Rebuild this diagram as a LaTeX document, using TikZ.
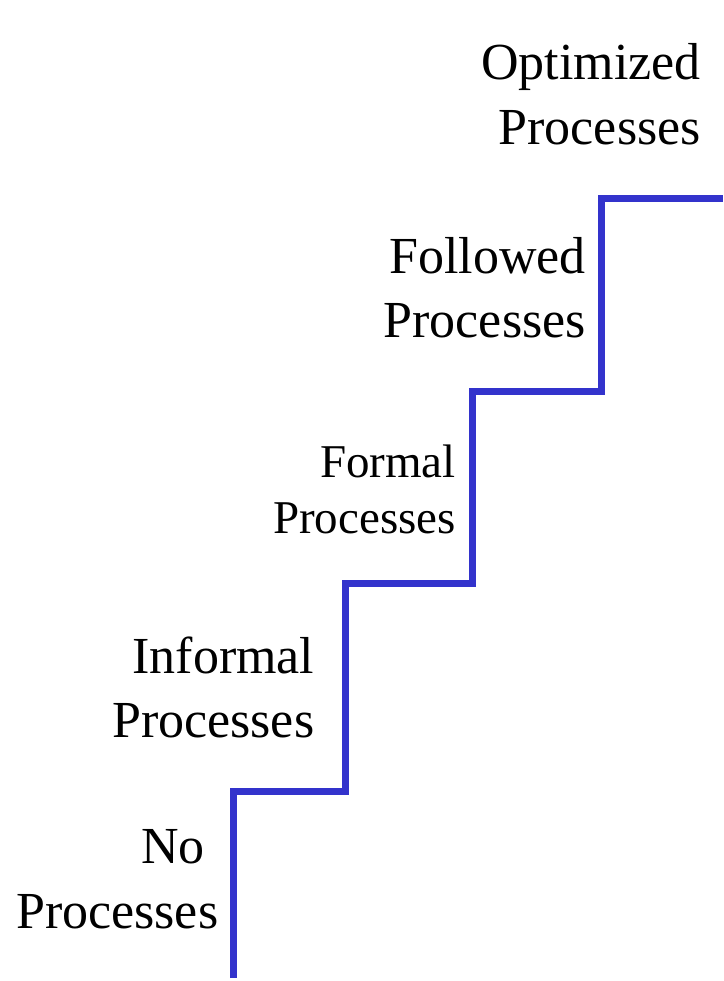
\documentclass[tikz,border=0pt]{standalone}
\usepackage{fontspec}
\setmainfont{Liberation Serif}
\usepackage{xcolor}
\usepackage{tikz}
\definecolor{stairblue}{RGB}{51,51,204}

\begin{document}
\begin{tikzpicture}[
  x=1pt, y=-1pt,
  stair/.style={draw=stairblue, line width=7pt, line join=miter},
  lvl/.style={font=\fontsize{52}{64}\selectfont, inner sep=0, anchor=base east},
  lvlsmall/.style={lvl, font=\fontsize{47}{56}\selectfont},
]
\useasboundingbox (0,0) rectangle (723,981);
% the staircase, bottom left to top right
\draw[stair] (233,978) |- (345,791) |- (472,583) |- (601,391) |- (723,199);
% level labels, right aligned against each riser
\node[lvl] (no1) at (205,863) {No};
\node[lvl] (no2) at (218.5,928) {Processes};
\node[lvl] (inf1) at (314.5,673) {Informal};
\node[lvl] (inf2) at (314.5,737) {Processes};
\node[lvlsmall] (frm1) at (456,477) {Formal};
\node[lvlsmall] (frm2) at (456,533) {Processes};
\node[lvl] (fol1) at (586,273) {Followed};
\node[lvl] (fol2) at (586,337) {Processes};
\node[lvl] (opt1) at (701,80) {Optimized};
\node[lvl] (opt2) at (701,145) {Processes};
\end{tikzpicture}
\end{document}
